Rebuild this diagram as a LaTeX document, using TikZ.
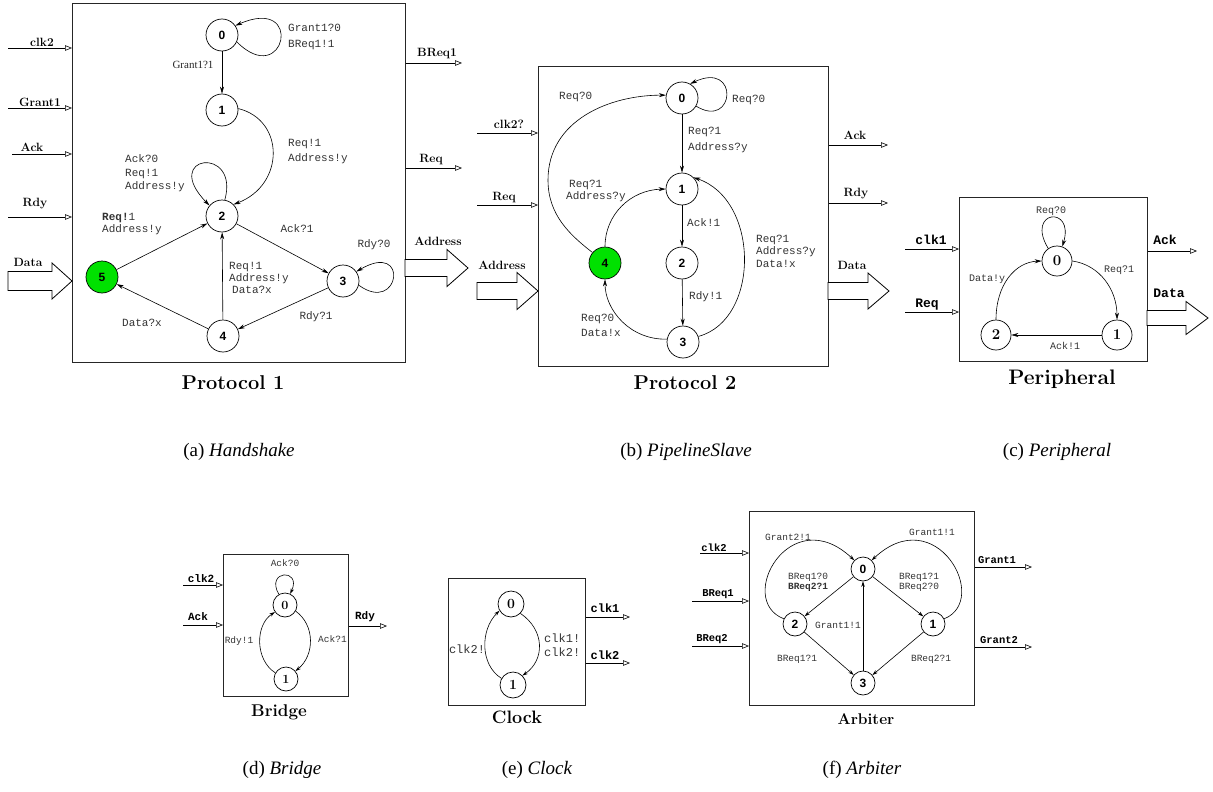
\documentclass[tikz,border=0pt]{standalone}
\usepackage{fontspec}
\usetikzlibrary{arrows.meta}
\newfontfamily\mono{Liberation Mono}
\newfontfamily\hv{Liberation Sans}
\newfontfamily\tm{Liberation Serif}
\definecolor{stgreen}{RGB}{0,225,0}
\newcommand\fs[2]{\fontsize{#1}{#2}\selectfont}
\newcommand\fatarr[6]{\draw[fat] ({#1},{#4-#5}) -- ({#2},{#4-#5}) -- ({#2},{#4-#6}) -- ({#3},{#4}) -- ({#2},{#4+#6}) -- ({#2},{#4+#5}) -- ({#1},{#4+#5}) -- cycle;}
\tikzset{
 box/.style={draw=black!85, line width=0.9pt, rectangle, inner sep=0pt, anchor=north west},
 st/.style={circle, draw, line width=0.7pt, inner sep=0pt, minimum size=32pt, font=\hv\bfseries\fs{12}{14}},
 sts/.style={circle, draw, line width=0.7pt, inner sep=0pt, minimum size=#1, font=\bfseries\fs{14}{16}},
 sta/.style={circle, draw, line width=0.7pt, inner sep=0pt, minimum size=24pt, font=\hv\bfseries\fs{12}{14}},
 lbl/.style={text=black!80, inner sep=0pt, align=left},
 L11/.style={lbl, font=\mono\fs{11}{#1}}, L11/.default=13,
 L10/.style={lbl, font=\mono\fs{10}{#1}}, L10/.default=11,
 L9/.style={lbl, font=\mono\fs{9.5}{#1}}, L9/.default=10,
 pl/.style={font=\bfseries\fs{12}{14}, inner sep=0pt},
 tpl/.style={font=\mono\bfseries\fs{#1}{#1}, inner sep=0pt},
 cap/.style={font=\bfseries\fs{#1}{#1}, inner sep=0pt},
 sub/.style={font=\tm\fs{19}{21}, inner sep=0pt},
 tr/.style={line width=0.6pt, -{Stealth[length=7pt,width=4pt]}},
 trs/.style={line width=0.6pt, -{Stealth[length=5.5pt,width=3.5pt]}},
 pin/.style={line width=0.7pt, -{Triangle[open,length=7pt,width=5.5pt,line width=0.6pt]}},
 fat/.style={draw, line width=0.8pt, fill=white},
}
\begin{document}
\begin{tikzpicture}[x=1pt,y=-1pt]
\useasboundingbox (0,0) rectangle (1213,792);

% ================= Protocol 1 =================
\node[box, minimum width=333pt, minimum height=359pt] (P1) at (72,3) {};
\node[st] (a0) at (222,35) {0};
\node[st] (a1) at (222,110) {1};
\node[st] (a2) at (222,216) {2};
\node[st] (a3) at (343,281) {3};
\node[st] (a4) at (223,336) {4};
\node[st, fill=stgreen] (a5) at (102,277) {5};
\draw[tr] (a0) -- (a1);
\draw[tr] (a0.-25) .. controls (285,90) and (305,-5) .. (a0.35);
\draw[tr] (a1.5) .. controls (285,120) and (285,185) .. (a2.45);
\draw[tr] (a2.80) .. controls (240,145) and (160,155) .. (a2.140);
\draw[tr] (a2) -- (a3);
\draw[tr] (a3.-15) .. controls (400,315) and (410,240) .. (a3.35);
\draw[tr] (a3) -- (a4);
\draw[tr] (a4) -- (a2);
\draw[tr] (a4) -- (a5);
\draw[tr] (a5) -- (a2);
\node[L11=16, anchor=west] at (288,37) {Grant1?0\\BReq1!1};
\node[font=\tm\fs{11}{13}, text=black!85, inner sep=0pt] at (193,65) {Grant1?1};
\node[L11=15, anchor=west] at (288,152) {Req!1\\Address!y};
\node[L11=13.5, anchor=west] at (125,173.5) {Ack?0\\Req!1\\Address!y};
\node[L11] at (297,229) {Ack?1};
\node[L11] at (374,245) {Rdy?0};
\node[L11] at (316,317) {Rdy?1};
\node[L11=12, anchor=west] at (229,278) {Req!1\\Address!y\\\hspace*{3pt}Data?x};
\node[L11] at (142,323) {Data?x};
\node[L11=12, anchor=west] at (102,224) {\textbf{Req!}1\\Address!y};
% ports
\coordinate (i11) at (8,48);   \draw[pin] (i11) -- (i11 -| P1.west); \node[pl] at (42,42) {clk2};
\coordinate (i12) at (8,108);  \draw[pin] (i12) -- (i12 -| P1.west); \node[pl] at (40,102) {Grant1};
\coordinate (i13) at (12,154); \draw[pin] (i13) -- (i13 -| P1.west); \node[pl] at (32,147) {Ack};
\coordinate (i14) at (8,217);  \draw[pin] (i14) -- (i14 -| P1.west); \node[pl] at (35,204) {Rdy};
\fatarr{8}{52}{72}{281}{9.5}{18}
\node[pl] at (28,262) {Data};
\coordinate (o11) at (462,63);  \draw[pin] (o11 -| P1.east) -- (o11); \node[pl] at (437,54) {BReq1};
\coordinate (o12) at (462,168); \draw[pin] (o12 -| P1.east) -- (o12); \node[pl] at (431,160) {Req};
\fatarr{405}{447}{468}{268}{8.5}{18.5}
\node[pl] at (438,241) {Address};
\node[cap=20] at (233,383) {Protocol 1};
\node[sub] at (239,452) {(a) \textit{Handshake}};

% ================= Protocol 2 =================
\node[box, minimum width=290pt, minimum height=300pt] (P2) at (538,66) {};
\node[st] (b0) at (682,98) {0};
\node[st] (b1) at (682,189) {1};
\node[st] (b2) at (682,263) {2};
\node[st] (b3) at (683,342) {3};
\node[st, fill=stgreen] (b4) at (605,263) {4};
\draw[tr] (b0.-30) .. controls (735,130) and (740,60) .. (b0.60);
\draw[tr] (b0) -- (b1);
\draw[tr] (b4.140) .. controls (570,235) and (548,215) .. (548,180) .. controls (548,120) and (610,95) .. (b0.170);
\draw[tr] (b4.north) .. controls (605,215) and (630,190) .. (b1.180);
\draw[tr] (b1) -- (b2);
\draw[tr] (b2) -- (b3);
\draw[tr] (b3.20) .. controls (760,320) and (760,200) .. (b1.45);
\draw[tr] (b3.170) .. controls (630,340) and (605,310) .. (b4.south);
\node[L11, anchor=west] at (732,100) {Req?0};
\node[L11, anchor=west] at (559,97) {Req?0};
\node[L11=16, anchor=west] at (688,140) {Req?1\\Address?y};
\node[L11=12, anchor=west] at (566,191) {\hspace*{3pt}Req?1\\Address?y};
\node[L11, anchor=west] at (687,223) {Ack!1};
\node[L11, anchor=west] at (689,297) {Rdy!1};
\node[L11=12.5, anchor=west] at (756,251) {Req?1\\Address?y\\Data!x};
\node[L11=15, anchor=west] at (581,325) {Req?0\\Data!x};
\coordinate (i21) at (477,133); \draw[pin] (i21) -- (i21 -| P2.west); \node[pl] at (509,124) {clk2?};
\coordinate (i22) at (477,205); \draw[pin] (i22) -- (i22 -| P2.west); \node[pl] at (504,198) {Req};
\fatarr{477}{517}{538}{291}{8.5}{18.5}
\node[pl] at (502,265) {Address};
\coordinate (o21) at (888,145); \draw[pin] (o21 -| P2.east) -- (o21); \node[pl] at (855,135) {Ack};
\coordinate (o22) at (888,203); \draw[pin] (o22 -| P2.east) -- (o22); \node[pl] at (856,194) {Rdy};
\fatarr{828}{868}{889}{291}{8.5}{18}
\node[pl] at (852,265) {Data};
\node[cap=20] at (685,383) {Protocol 2};
\node[sub] at (686,452) {(b) \textit{PipelineSlave}};

% ================= Peripheral =================
\node[box, minimum width=188pt, minimum height=164pt] (P3) at (959,197) {};
\node[sts=30pt, font=\bfseries\fs{15}{16}] (c0) at (1057,261) {0};
\node[sts=30pt, font=\bfseries\fs{15}{16}] (c1) at (1117,335) {1};
\node[sts=30pt, font=\bfseries\fs{15}{16}] (c2) at (996,335) {2};
\draw[tr] (c0.125) .. controls (1025,210) and (1075,205) .. (c0.70);
\draw[tr] (c0.east) .. controls (1100,265) and (1117,290) .. (c1.north);
\draw[tr] (c1) -- (c2);
\draw[tr] (c2.north) .. controls (996,285) and (1015,262) .. (c0.west);
\node[L10] at (1051,211) {Req?0};
\node[L10, anchor=west] at (1104,270) {Req?1};
\node[L10] at (1065,346) {Ack!1};
\node[L10] at (987,279) {Data!y};
\coordinate (i31) at (905,249); \draw[pin] (i31) -- (i31 -| P3.west); \node[tpl=13] at (931,240) {clk1};
\coordinate (i32) at (905,312); \draw[pin] (i32) -- (i32 -| P3.west); \node[tpl=13] at (927,305) {Req};
\coordinate (o31) at (1197,251); \draw[pin] (o31 -| P3.east) -- (o31); \node[tpl=13] at (1165,240) {Ack};
\fatarr{1147}{1186}{1208}{318}{7.5}{16.5}
\node[tpl=13] at (1169,293) {Data};
\node[cap=21] at (1062,379) {Peripheral};
\node[sub] at (1057,452) {(c) \textit{Peripheral}};

% ================= Bridge =================
\node[box, minimum width=125pt, minimum height=142pt] (P4) at (223,554) {};
\node[sts=24pt, font=\bfseries\fs{12.5}{14}] (d0) at (285,605) {0};
\node[sts=24pt, font=\bfseries\fs{12.5}{14}] (d1) at (286,679) {1};
\draw[trs] (d0.120) .. controls (265,570) and (302,568) .. (d0.65);
\draw[trs] (d0.-30) .. controls (315,625) and (315,655) .. (d1.40);
\draw[trs] (d1.150) .. controls (255,660) and (255,625) .. (d0.215);
\node[L9] at (285,563) {Ack?0};
\node[L9, anchor=west] at (318,639) {Ack?1};
\node[L9] at (239,641) {Rdy!1};
\coordinate (i41) at (183,585); \draw[pin] (i41) -- (i41 -| P4.west); \node[tpl=11] at (201,579) {clk2};
\coordinate (i42) at (183,625); \draw[pin] (i42) -- (i42 -| P4.west); \node[tpl=11] at (198,617) {Ack};
\coordinate (o41) at (387,626); \draw[pin] (o41 -| P4.east) -- (o41); \node[tpl=11] at (365,617) {Rdy};
\node[cap=17] at (279,712) {Bridge};
\node[sub] at (282,770) {(d) \textit{Bridge}};

% ================= Clock =================
\node[box, minimum width=137pt, minimum height=127pt] (P5) at (448,578) {};
\node[sts=26pt] (e0) at (511,604) {0};
\node[sts=26pt] (e1) at (513,685) {1};
\draw[trs] (e0.-45) .. controls (545,630) and (545,660) .. (e1.45);
\draw[trs] (e1.150) .. controls (480,665) and (480,630) .. (e0.210);
\node[L11=14, font=\mono\fs{12}{14}, anchor=west] at (544,645) {clk1!\\clk2!};
\node[L11, font=\mono\fs{12}{14}] at (467,649) {clk2!};
\coordinate (o51) at (630,617); \draw[pin] (o51 -| P5.east) -- (o51); \node[tpl=12] at (605,608) {clk1};
\coordinate (o52) at (630,663); \draw[pin] (o52 -| P5.east) -- (o52); \node[tpl=12] at (605,655) {clk2};
\node[cap=18] at (517,717) {Clock};
\node[sub] at (537,770) {(e) \textit{Clock}};

% ================= Arbiter =================
\node[box, minimum width=225pt, minimum height=194pt] (P6) at (749,511) {};
\node[sta] (f0) at (863,569) {0};
\node[sta] (f1) at (933,624) {1};
\node[sta] (f2) at (795,624) {2};
\node[sta] (f3) at (863,683) {3};
\draw[trs] (f0) -- (f2);
\draw[trs] (f0) -- (f1);
\draw[trs] (f2) -- (f3);
\draw[trs] (f1) -- (f3);
\draw[trs] (f3) -- (f0);
\draw[trs] (f2.155) .. controls (735,600) and (790,500) .. (f0.135);
\draw[trs] (f1.25) .. controls (991,600) and (936,500) .. (f0.45);
\node[L9] at (788,537) {Grant2!1};
\node[L9] at (932,532) {Grant1!1};
\node[L9] at (808,582) {BReq1?0\\\textbf{BReq2?1}};
\node[L9] at (919,582) {BReq1?1\\BReq2?0};
\node[L9] at (838,625) {Grant1!1};
\node[L9] at (797,659) {BReq1?1};
\node[L9] at (931,659) {BReq2?1};
\coordinate (i61) at (700,553); \draw[pin] (i61) -- (i61 -| P6.west); \node[tpl=10.5] at (714,548) {clk2};
\coordinate (i62) at (692,601); \draw[pin] (i62) -- (i62 -| P6.west); \node[tpl=10.5] at (718,594) {BReq1};
\coordinate (i63) at (692,646); \draw[pin] (i63) -- (i63 -| P6.west); \node[tpl=10.5] at (712,639) {BReq2};
\coordinate (o61) at (1032,567); \draw[pin] (o61 -| P6.east) -- (o61); \node[tpl=10.5] at (997,560) {Grant1};
\coordinate (o62) at (1032,647); \draw[pin] (o62 -| P6.east) -- (o62); \node[tpl=10.5] at (999,640) {Grant2};
\node[cap=15.5] at (866,719) {Arbiter};
\node[sub] at (862,770) {(f) \textit{Arbiter}};
\end{tikzpicture}
\end{document}
